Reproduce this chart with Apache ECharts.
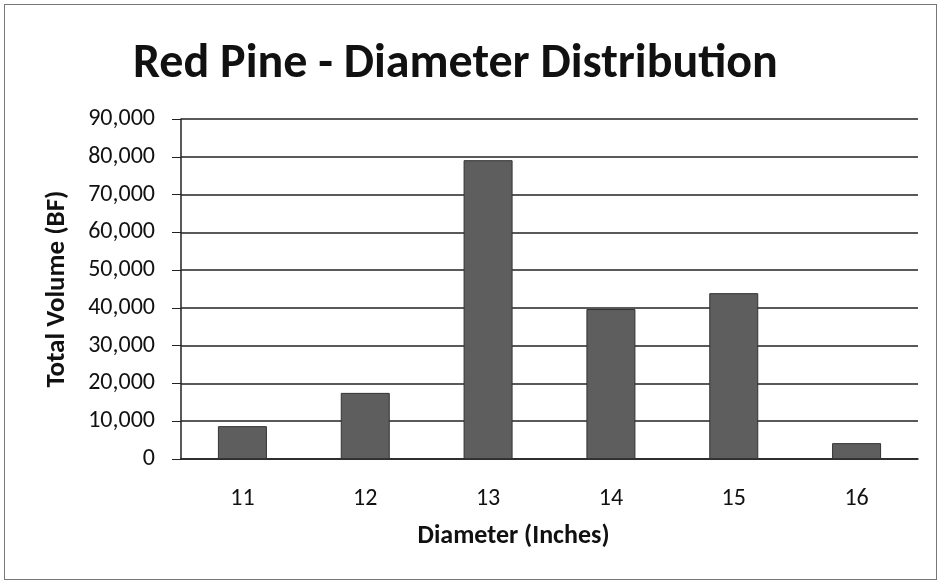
<!DOCTYPE html>
<html>
<head>
<meta charset="utf-8">
<script src="https://cdn.jsdelivr.net/npm/echarts@6/dist/echarts.min.js"></script>
<style>
  html, body { margin: 0; padding: 0; background: #fff; }
  #chart { width: 941px; height: 584px; }
  .frame { position: absolute; left: 4px; top: 4px; width: 931px; height: 574px; border: 1px solid #777; pointer-events: none; }
</style>
</head>
<body>
<div id="chart"></div>
<div class="frame"></div>
<script>
// diameter classes and volume per class (board feet)
const diameters = ['11', '12', '13', '14', '15', '16']
const volumes = [8700, 17500, 79100, 39700, 43900, 4200]
const font = 'Carlito, "Open Sans", "Noto Sans", sans-serif'

const chart = echarts.init(document.getElementById('chart'))
chart.setOption({
  animation: false,
  title: {
    text: 'Red Pine - Diameter Distribution',
    left: 128,
    top: 36,
    textStyle: { fontFamily: font, fontSize: 48, fontWeight: 'bold', color: '#111' }
  },
  grid: { left: 181, right: 23, top: 119, bottom: 125 },
  xAxis: {
    type: 'category',
    data: diameters,
    name: 'Diameter (Inches)',
    nameLocation: 'middle',
    nameGap: 64,
    nameTextStyle: {
      fontFamily: font, fontSize: 26, fontWeight: 'bold', color: '#111',
      padding: [0, 72, 0, 0]
    },
    axisLine: { lineStyle: { color: '#222', width: 1.5 } },
    axisTick: { show: false },
    axisLabel: { fontFamily: font, fontSize: 24, color: '#111', margin: 28 }
  },
  yAxis: {
    type: 'value',
    min: 0,
    max: 90000,
    interval: 10000,
    name: 'Total Volume (BF)',
    nameLocation: 'middle',
    nameGap: 110,
    nameTextStyle: { fontFamily: font, fontSize: 27, fontWeight: 'bold', color: '#111' },
    axisLine: { show: true, lineStyle: { color: '#222', width: 1.5 } },
    axisTick: { show: true, length: 9, lineStyle: { color: '#222' } },
    splitLine: { lineStyle: { color: '#222', width: 1.5 } },
    axisLabel: {
      fontFamily: font, fontSize: 24, color: '#111', margin: 26,
      formatter: v => v.toLocaleString('en-US')
    }
  },
  series: [{
    type: 'bar',
    data: volumes,
    barWidth: 49,
    itemStyle: { color: '#5e5e5e', borderColor: '#333', borderWidth: 1 }
  }]
})
</script>
</body>
</html>
